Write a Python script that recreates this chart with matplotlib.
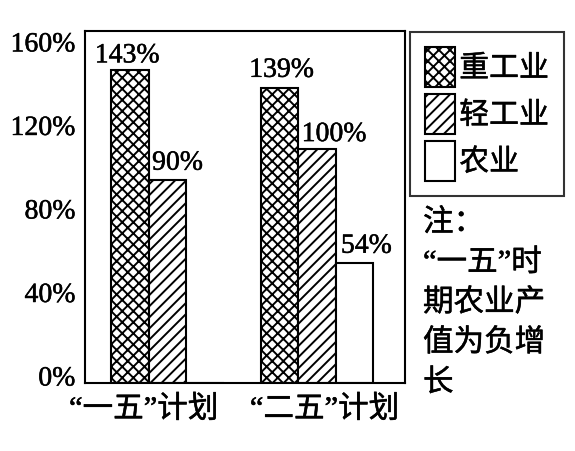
import matplotlib

matplotlib.use("Agg")

import matplotlib.pyplot as plt
import matplotlib.patches as mpatches
import matplotlib.patheffects as pe
import numpy as np

plt.rcParams["font.family"] = ["Liberation Serif", "Noto Sans CJK SC"]
plt.rcParams["hatch.linewidth"] = 1.4

# data
plans = ["“一五”计划", "“二五”计划"]
series = ["重工业", "轻工业", "农业"]
heavy = [143, 135]
light = [93, 107]
agri = [0, 55]
heavy_labels = ["143%", "139%"]
light_labels = ["90%", "100%"]
agri_labels = ["", "54%"]
yticks = [0, 40, 80, 120, 160]
note = "注：\n“一五”时\n期农业产\n值为负增\n长"

hatches = ["xxx", "///", ""]
label_dx = [[-3, 2], [10, 17], [0, 12]]  # px, label shift from bar centre
label_dy = [[8, 11], [10, 8], [0, 10]]
heavy_text = [pe.withStroke(linewidth=0.35, foreground="black")]

fig = plt.figure(figsize=(5.75, 4.52), dpi=100)
ax = fig.add_axes([85 / 575, 1 - 384 / 452, 320 / 575, 352 / 452])

x = np.arange(len(plans))
width = 0.25
for k, (vals, labs) in enumerate(
    zip([heavy, light, agri], [heavy_labels, light_labels, agri_labels])
):
    pos = x + (k - 1) * width
    ax.bar(pos, vals, width, facecolor="white", edgecolor="black",
           linewidth=1.5, hatch=hatches[k])
    for i, (p, v, lab) in enumerate(zip(pos, vals, labs)):
        if lab:
            ax.annotate(lab, (p, v), xytext=(label_dx[k][i], label_dy[k][i]),
                        textcoords="offset pixels", ha="center", va="baseline",
                        fontsize=20, path_effects=heavy_text)

ax.set_xlim(-0.552, 1.589)
ax.set_ylim(0, 161)
# the original's tick labels sit a little inside the true 0/160 lines
ax.set_yticks([3.2 + t * 0.955 for t in yticks])
ax.set_yticklabels([f"{t}%" for t in yticks], fontsize=20)
ax.set_xticks(x + np.array([-0.16, 0.05]))
ax.set_xticklabels(plans, fontsize=22)
ax.tick_params(axis="both", length=0)
ax.tick_params(axis="y", pad=7)
ax.tick_params(axis="x", pad=9)
for lab in ax.get_xticklabels() + ax.get_yticklabels():
    lab.set_path_effects(heavy_text)
for s in ax.spines.values():
    s.set_linewidth(1.5)

handles = [
    mpatches.Patch(facecolor="white", edgecolor="black", linewidth=1.5, hatch=h)
    for h in hatches
]
leg = ax.legend(handles, series, loc="upper left",
                bbox_to_anchor=(410 / 575, 1 - 33 / 452),
                bbox_transform=fig.transFigure,
                prop={"family": "Noto Sans CJK SC", "size": 21.5},
                handlelength=1.0, handleheight=1.7, handletextpad=0.15,
                labelspacing=0.22, borderpad=0.5, borderaxespad=0,
                fancybox=False, frameon=True)
leg.get_frame().set_edgecolor("black")
leg.get_frame().set_linewidth(1.5)
for t in leg.get_texts():
    t.set_path_effects(heavy_text)

fig.text(423 / 575, 1 - 210 / 452, note, ha="left", va="top", fontsize=22,
         linespacing=1.5, path_effects=heavy_text)

fig.savefig("out.png", dpi=100)
